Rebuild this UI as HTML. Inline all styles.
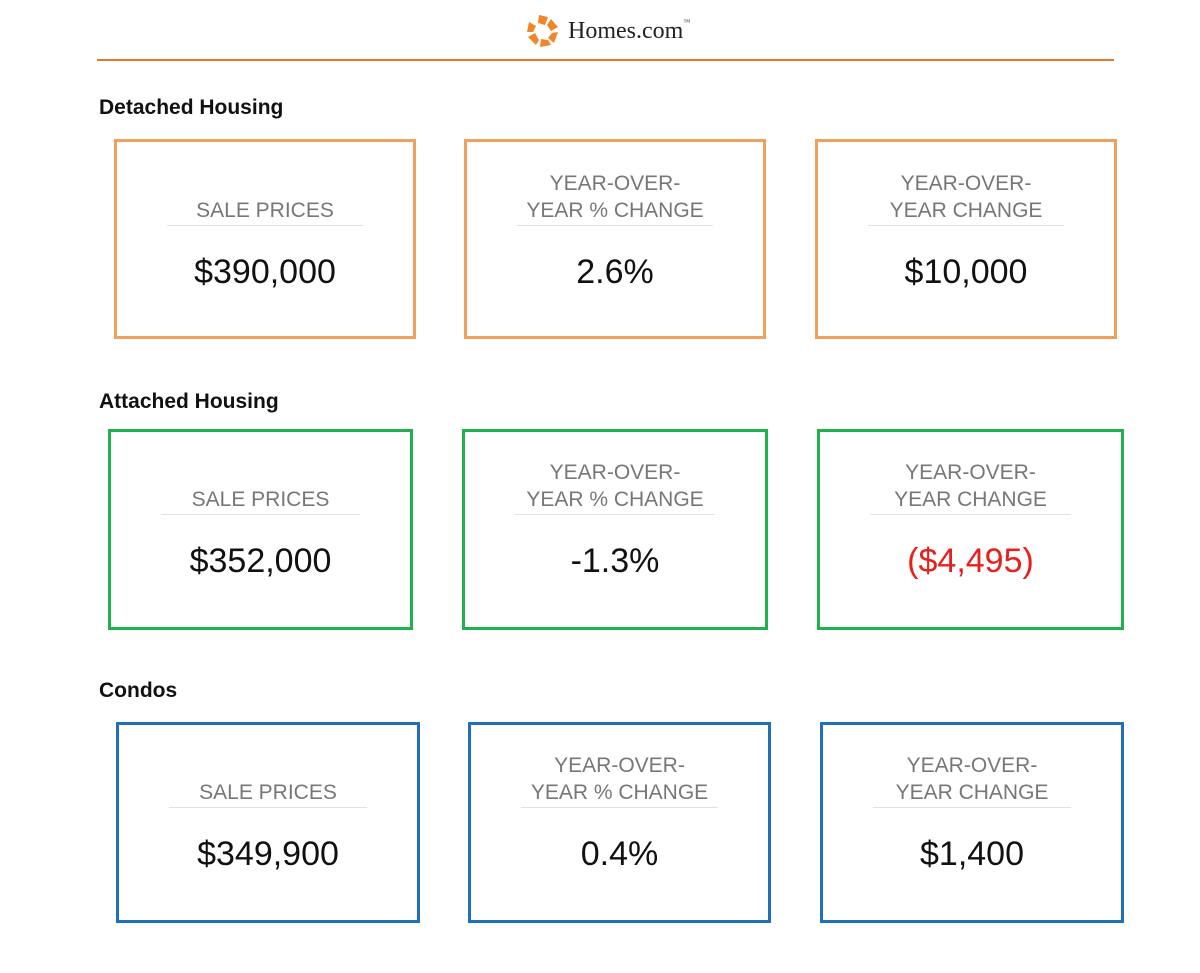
<!DOCTYPE html>
<html><head><meta charset="utf-8"><style>
body{margin:0;width:1200px;height:973px;background:#fff;position:relative;font-family:"Liberation Sans",Arial,sans-serif;overflow:hidden}
.h{position:absolute;left:99px;font-weight:bold;font-size:21px;color:#111}
.b{position:absolute;box-sizing:border-box;border:3px solid;background:#fff}
.o{border-color:#f0a05a}.g{border-color:#20b04e}.bl{border-color:#1f6fbd}
.lab{position:absolute;left:0;right:0;text-align:center;color:#777;font-size:21px;line-height:27px}
.rule{position:absolute;left:50px;right:50px;height:1px;background:#e2e2e2}
.v{position:absolute;left:0;right:0;text-align:center;font-size:34px;color:#111}
</style></head><body>
<svg style="position:absolute;left:526px;top:14px" width="34" height="34" viewBox="0 0 34 34">
<g fill="#f0862a"><polygon points="13,1 22,3 19,11 12,9"/><polygon points="25,5 32,13 25,17 21,11"/><polygon points="32,18 28,29 22,24 26,19"/><polygon points="25,31 14,33 15,25 22,26"/><polygon points="10,31 2,23 9,19 13,26"/><polygon points="1,18 3,8 10,12 7,18"/></g></svg>
<div style="position:absolute;left:568px;top:18px;font-family:'Liberation Serif',serif;font-size:24px;color:#222">Homes.com<span style="font-size:7px;vertical-align:top">™</span></div>
<div style="position:absolute;left:97px;top:59px;width:1017px;height:2px;background:#e07a2e"></div>

<div class="h" style="top:96px">Detached Housing</div>
<div class="h" style="top:390px">Attached Housing</div>
<div class="h" style="top:679px">Condos</div>

<div class="b o" style="left:114px;top:139px;width:302px;height:200px"><div class="lab" style="top:55px">SALE PRICES</div><div class="rule" style="top:83px"></div><div class="v" style="top:111px">$390,000</div></div>
<div class="b o" style="left:464px;top:139px;width:302px;height:200px"><div class="lab" style="top:28px">YEAR-OVER-<br>YEAR % CHANGE</div><div class="rule" style="top:83px"></div><div class="v" style="top:111px">2.6%</div></div>
<div class="b o" style="left:815px;top:139px;width:302px;height:200px"><div class="lab" style="top:28px">YEAR-OVER-<br>YEAR CHANGE</div><div class="rule" style="top:83px"></div><div class="v" style="top:111px">$10,000</div></div>

<div class="b g" style="left:108px;top:429px;width:305px;height:201px"><div class="lab" style="top:54px">SALE PRICES</div><div class="rule" style="top:82px"></div><div class="v" style="top:110px">$352,000</div></div>
<div class="b g" style="left:462px;top:429px;width:306px;height:201px"><div class="lab" style="top:27px">YEAR-OVER-<br>YEAR % CHANGE</div><div class="rule" style="top:82px"></div><div class="v" style="top:110px">-1.3%</div></div>
<div class="b g" style="left:817px;top:429px;width:307px;height:201px"><div class="lab" style="top:27px">YEAR-OVER-<br>YEAR CHANGE</div><div class="rule" style="top:82px"></div><div class="v" style="top:110px;color:#e8201c">($4,495)</div></div>

<div class="b bl" style="left:116px;top:722px;width:304px;height:201px"><div class="lab" style="top:54px">SALE PRICES</div><div class="rule" style="top:82px"></div><div class="v" style="top:110px">$349,900</div></div>
<div class="b bl" style="left:468px;top:722px;width:303px;height:201px"><div class="lab" style="top:27px">YEAR-OVER-<br>YEAR % CHANGE</div><div class="rule" style="top:82px"></div><div class="v" style="top:110px">0.4%</div></div>
<div class="b bl" style="left:820px;top:722px;width:304px;height:201px"><div class="lab" style="top:27px">YEAR-OVER-<br>YEAR CHANGE</div><div class="rule" style="top:82px"></div><div class="v" style="top:110px">$1,400</div></div>
</body></html>
